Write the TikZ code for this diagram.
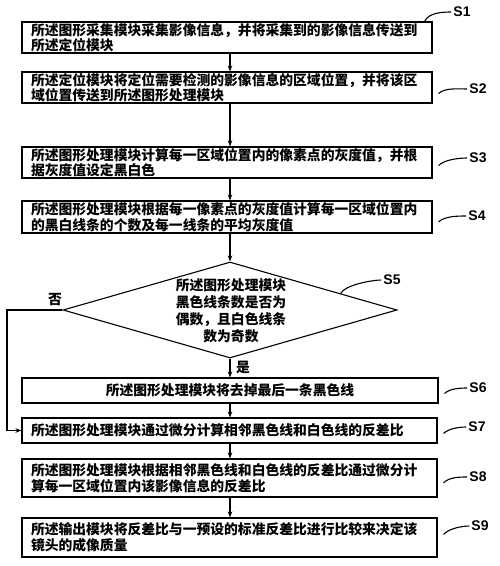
\documentclass[tikz,border=0pt]{standalone}
\usepackage{fontspec}
\newfontfamily\cjk{Noto Sans CJK SC}
\newfontfamily\labfont{Liberation Sans}
\usetikzlibrary{shapes.geometric,arrows.meta,calc}
\begin{document}
\begin{tikzpicture}[x=1pt,y=-1pt,
  box/.style={draw, line width=1.1pt, inner xsep=9pt, inner ysep=0pt, align=left,
    font=\cjk\bfseries\fontsize{13.8}{15.5}\selectfont},
  txt/.style={font=\cjk\bfseries\fontsize{13.8}{17}\selectfont, inner sep=0pt},
  arr/.style={line width=1.1pt, -{Stealth[length=6pt,width=4.5pt]}},
  lab/.style={font=\labfont\bfseries\fontsize{14}{14}\selectfont, inner sep=2pt},
  lead/.style={line width=1.1pt}]
\useasboundingbox (0,0) rectangle (500,566);

\node[box, text width=392pt, minimum height=31pt] (S1) at (227,37.5)
  {所述图形采集模块采集影像信息，并将采集到的影像信息传送到\\所述定位模块};
\node[box, text width=392pt, minimum height=31pt] (S2) at (227,87.5)
  {所述定位模块将定位需要检测的影像信息的区域位置，并将该区\\域位置传送到所述图形处理模块};
\node[box, text width=392pt, minimum height=31pt] (S3) at (227,162.5)
  {所述图形处理模块计算每一区域位置内的像素点的灰度值，并根\\据灰度值设定黑白色};
\node[box, text width=392pt, minimum height=32pt] (S4) at (227,217)
  {所述图形处理模块根据每一像素点的灰度值计算每一区域位置内\\的黑白线条的个数及每一线条的平均灰度值};
\node[draw, diamond, line width=1.1pt, minimum width=334pt, minimum height=96pt, inner sep=0pt] (D) at (230,310) {};
\node[txt, align=center] (Dt) at (231,311)
  {所述图形处理模块\\黑色线条数是否为\\偶数，且白色线条\\数为奇数};
\node[box, align=center, text width=398pt, minimum height=25pt] (S6) at (230,390.5)
  {所述图形处理模块将去掉最后一条黑色线};
\node[box, text width=397pt, minimum height=25pt] (S7) at (229.5,430.5)
  {所述图形处理模块通过微分计算相邻黑色线和白色线的反差比};
\node[box, text width=397pt, minimum height=38pt] (S8) at (229.5,478)
  {所述图形处理模块根据相邻黑色线和白色线的反差比通过微分计\\算每一区域位置内该影像信息的反差比};
\node[box, text width=397pt, minimum height=39pt] (S9) at (229.5,537.5)
  {所述输出模块将反差比与一预设的标准反差比进行比较来决定该\\镜头的成像质量};

% arrows
\draw[arr] (S1.south -| D.north) -- (S2.north -| D.north);
\draw[arr] (S2.south -| D.north) -- (S3.north -| D.north);
\draw[arr] (S3.south -| D.north) -- (S4.north -| D.north);
\draw[arr] (S4.south -| D.north) -- (D.north);
\draw[arr] (D.south) -- (S6.north -| D.south);
\draw[arr] (S6.south -| D.south) -- (S7.north -| D.south);
\draw[arr] (S7.south -| D.south) -- (S8.north -| D.south);
\draw[arr] (S8.south -| D.south) -- (S9.north -| D.south);
\coordinate (L) at (7,310);
\draw[arr] (D.west) -- (L) |- (S7.west);

\node[txt] (yes) at (243,367) {是};
\node[txt] (no) at (55,300) {否};

% step labels
\node[lab] (L1) at (462,12) {S1};
\node[lab] (L2) at (478,89) {S2};
\node[lab] (L3) at (478,158) {S3};
\node[lab] (L4) at (477,216) {S4};
\node[lab] (L5) at (392,280) {S5};
\node[lab] (L6) at (478,388) {S6};
\node[lab] (L7) at (477,427) {S7};
\node[lab] (L8) at (478,477) {S8};
\node[lab] (L9) at (480,526) {S9};

\draw[lead] ([xshift=-8pt]S1.north east) .. controls +(4,-9) and +(-8,0) .. (L1.west);
\draw[lead] ([shift={(6,6)}]S2.east) .. controls +(6,-6) and +(-8,0) .. (L2.west);
\draw[lead] ([shift={(6,3)}]S3.east) .. controls +(6,-6) and +(-8,0) .. (L3.west);
\draw[lead] ([shift={(6,5)}]S4.east) .. controls +(6,-6) and +(-8,0) .. (L4.west);
\draw[lead] ($(D.north)!0.66!(D.east)$) .. controls +(5,-9) and +(-8,0) .. (L5.west);
\draw[lead] ([shift={(6,3)}]S6.east) .. controls +(5,-5) and +(-7,0) .. (L6.west);
\draw[lead] ([shift={(6,3)}]S7.east) .. controls +(5,-5) and +(-7,0) .. (L7.west);
\draw[lead] ([shift={(6,5)}]S8.east) .. controls +(5,-6) and +(-7,0) .. (L8.west);
\draw[lead] ([shift={(6,-3)}]S9.east) .. controls +(5,-6) and +(-7,0) .. (L9.west);
\end{tikzpicture}
\end{document}
